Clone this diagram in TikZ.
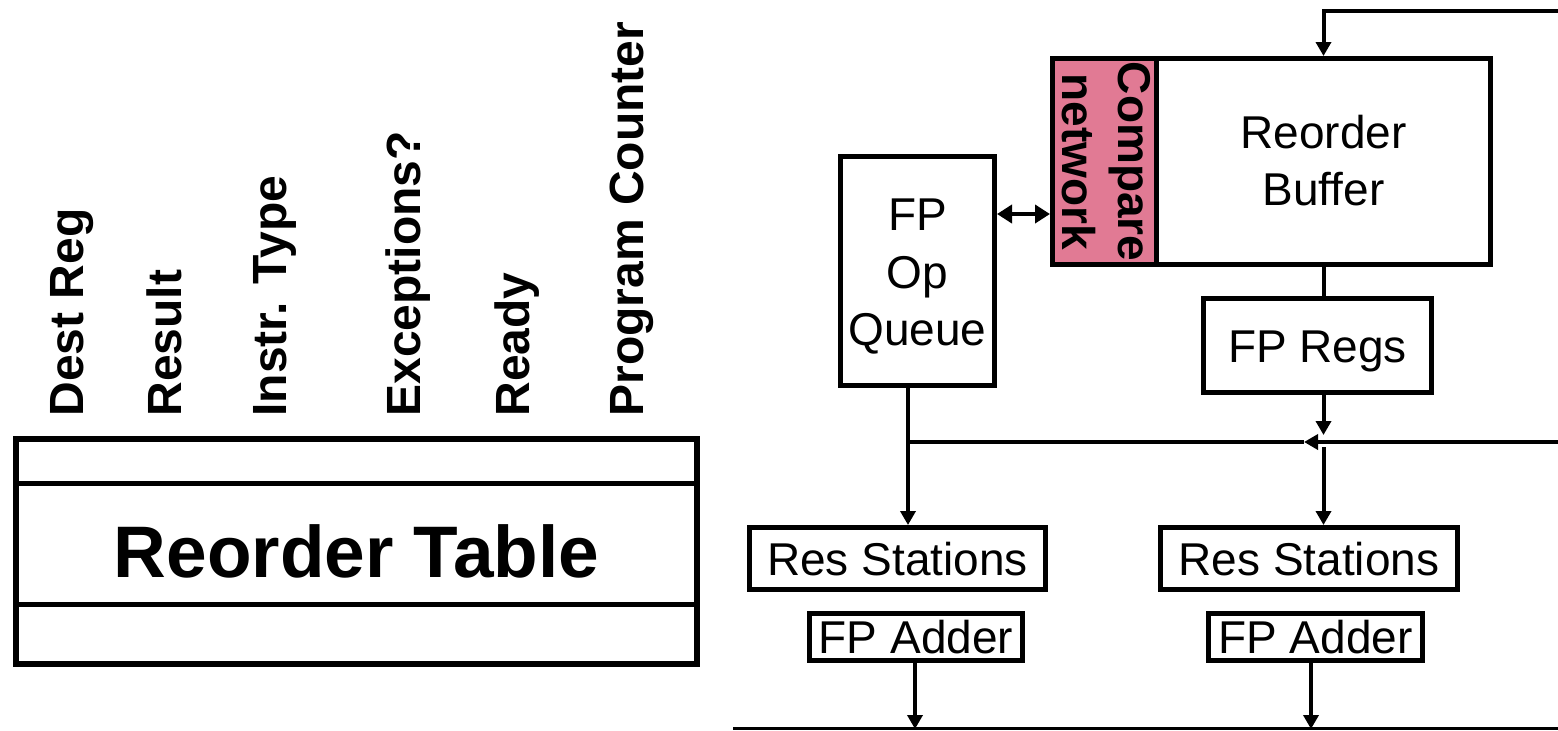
\documentclass[tikz,border=0pt]{standalone}
\usepackage{fontspec}
\setmainfont{Liberation Sans}
\usetikzlibrary{arrows.meta}
\definecolor{cmppink}{RGB}{225,122,148}
\begin{document}
\begin{tikzpicture}[x=0.5pt,y=-0.5pt,
  reg/.style={font=\fontsize{23}{28}\selectfont},
  box/.style={draw, line width=2.5pt, inner sep=0pt, text height=16.5pt, text depth=0pt, reg},
  lbl/.style={rotate=90, anchor=base west, inner sep=0pt, font=\bfseries\fontsize{24}{29}\selectfont},
  cmptxt/.style={rotate=-90, anchor=base, inner sep=0pt, font=\bfseries\fontsize{23}{28}\selectfont},
  ln/.style={line width=2pt},
  arr/.style={line width=2pt, -{Triangle[length=7pt,width=7.5pt]}},
  dblarr/.style={line width=2pt, {Triangle[length=7.5pt,width=9pt]}-{Triangle[length=7.5pt,width=9pt]}}
]
\useasboundingbox (0,0) rectangle (1558,730);

% ---------- Reorder table ----------
\node[draw, line width=2.75pt, inner sep=0pt, minimum width=340.5pt, minimum height=112.5pt,
      text height=26.1pt, text depth=0pt, font=\bfseries\fontsize{36.5}{44}\selectfont]
      (tab) at (356.5,551.5) {Reorder Table};
\coordinate (r1) at (0,483);
\coordinate (r2) at (0,604);
\draw[line width=2.5pt] (tab.west |- r1) -- (tab.east |- r1);
\draw[line width=2.5pt] (tab.west |- r2) -- (tab.east |- r2);

\node[lbl] (l1) at (83,417) {Dest Reg};
\node[lbl] (l2) at (181,417) {Result};
\node[lbl] (l3) at (286,417) {Instr. Type};
\node[lbl] (l4) at (420,417) {Exceptions?};
\node[lbl] (l5) at (529,417) {Ready};
\node[lbl] (l6) at (643,417) {Program Counter};

% ---------- Right-hand datapath ----------
\node[box, minimum width=167pt, minimum height=103pt] (rob) at (1323.5,161.5) {};
\node[reg, anchor=base] (robt1) at (1323.5,148) {Reorder};
\node[reg, anchor=base] (robt2) at (1323.5,205) {Buffer};

\node[box, fill=cmppink, minimum width=52pt, minimum height=103pt] (cmp) at (1104.5,161.5) {};
\node[cmptxt] (cmpt1) at (1118,161.5) {Compare};
\node[cmptxt] (cmpt2) at (1062,161.5) {network};

\node[box, minimum width=77pt, minimum height=114.5pt] (fpq) at (917.5,271) {};
\node[reg, anchor=base] (fpqt1) at (917.5,230) {FP};
\node[reg, anchor=base] (fpqt2) at (917.5,288) {Op};
\node[reg, anchor=base] (fpqt3) at (917.5,345) {Queue};

\node[box, minimum width=114pt, minimum height=47pt] (fpr) at (1317.5,345.5) {FP Regs};

\node[box, minimum width=148pt, minimum height=31pt] (rsL) at (897.5,558.5) {Res Stations};
\node[box, minimum width=148.5pt, minimum height=31pt] (rsR) at (1309,558.5) {Res Stations};
\node[box, minimum width=106.5pt, minimum height=23.5pt] (faL) at (916,637) {FP Adder};
\node[box, minimum width=107pt, minimum height=23.5pt] (faR) at (1315.5,637) {FP Adder};

% ---------- coordinates for free ends ----------
\coordinate (topin) at (1558,11);
\coordinate (dbly) at (0,214);
\coordinate (busR) at (1558,442);
\coordinate (busA) at (1304,442);
\coordinate (busL) at (908,442);
\coordinate (j1) at (1323.5,435);
\coordinate (j2) at (1323.5,447);
\coordinate (a1) at (915,729);
\coordinate (a2) at (1311,729);
\coordinate (botL) at (733,728.5);
\coordinate (botR) at (1558,728.5);

% ---------- connectors ----------
\draw[arr] (topin) -| (rob.north);
\draw[dblarr] (fpq.east |- dbly) -- (cmp.west |- dbly);
\draw[ln] (rob.south) -- (rob.south |- fpr.north);
\draw[arr] (rob.south |- fpr.south) -- (j1);
\draw[arr] (busR) -- (busA);
\draw[ln] (busA) -- (busL);
\draw[arr] (fpq.south -| busL) -- (busL |- rsL.north);
\draw[arr] (j2) -- (j2 |- rsR.north);
\draw[arr] (a1 |- faL.south) -- (a1);
\draw[arr] (a2 |- faR.south) -- (a2);
\draw[line width=1.5pt] (botL) -- (botR);
\end{tikzpicture}
\end{document}
